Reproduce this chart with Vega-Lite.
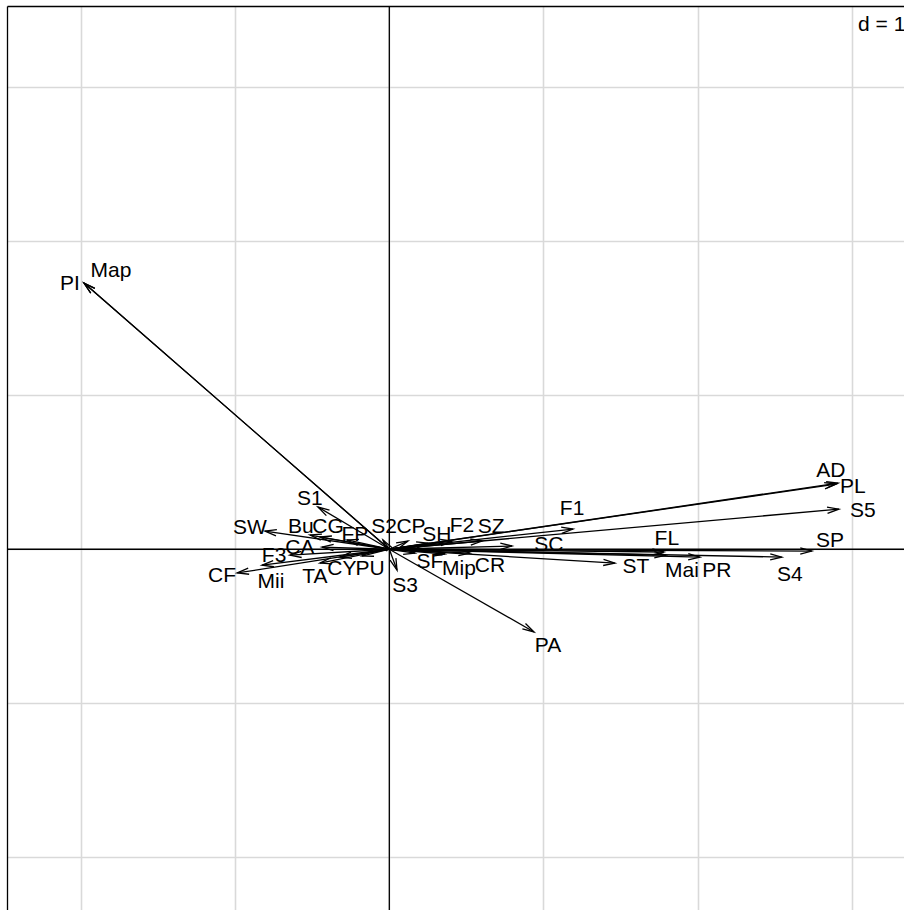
{
  "$schema": "https://vega.github.io/schema/vega-lite/v6.json",
  "width": 897,
  "height": 904,
  "autosize": {"type": "none"},
  "padding": {"left": 7, "top": 6, "right": 0, "bottom": 0},
  "background": "white",
  "config": {"view": {"stroke": null}},
  "datasets": {
    "arrows": [
      {"label": "PI", "x": -1.981, "y": 1.727, "lx": -2.072, "ly": 1.721},
      {"label": "Map", "x": -1.981, "y": 1.727, "lx": -1.806, "ly": 1.805},
      {"label": "S1", "x": -0.463, "y": 0.274, "lx": -0.515, "ly": 0.326},
      {"label": "SW", "x": -0.807, "y": 0.118, "lx": -0.904, "ly": 0.138},
      {"label": "Bu", "x": -0.515, "y": 0.092, "lx": -0.574, "ly": 0.144},
      {"label": "CG", "x": -0.450, "y": 0.079, "lx": -0.398, "ly": 0.144},
      {"label": "FP", "x": -0.275, "y": 0.060, "lx": -0.223, "ly": 0.092},
      {"label": "S2", "x": -0.041, "y": 0.060, "lx": -0.034, "ly": 0.144},
      {"label": "CP", "x": 0.121, "y": 0.053, "lx": 0.141, "ly": 0.144},
      {"label": "SH", "x": 0.251, "y": 0.040, "lx": 0.309, "ly": 0.092},
      {"label": "F2", "x": 0.407, "y": 0.053, "lx": 0.471, "ly": 0.151},
      {"label": "SZ", "x": 0.602, "y": 0.053, "lx": 0.661, "ly": 0.147},
      {"label": "SC", "x": 0.796, "y": 0.021, "lx": 1.036, "ly": 0.027},
      {"label": "F1", "x": 1.192, "y": 0.131, "lx": 1.186, "ly": 0.260},
      {"label": "AD", "x": 2.899, "y": 0.423, "lx": 2.865, "ly": 0.507},
      {"label": "PL", "x": 2.912, "y": 0.429, "lx": 3.008, "ly": 0.404},
      {"label": "S5", "x": 2.917, "y": 0.260, "lx": 3.073, "ly": 0.248},
      {"label": "SP", "x": 2.742, "y": -0.012, "lx": 2.859, "ly": 0.053},
      {"label": "S4", "x": 2.547, "y": -0.051, "lx": 2.599, "ly": -0.167},
      {"label": "PR", "x": 2.015, "y": -0.051, "lx": 2.126, "ly": -0.141},
      {"label": "Mai", "x": 1.795, "y": -0.038, "lx": 1.899, "ly": -0.141},
      {"label": "FL", "x": 1.782, "y": -0.018, "lx": 1.801, "ly": 0.066},
      {"label": "ST", "x": 1.464, "y": -0.090, "lx": 1.600, "ly": -0.116},
      {"label": "PA", "x": 0.939, "y": -0.537, "lx": 1.030, "ly": -0.628},
      {"label": "S3", "x": 0.050, "y": -0.135, "lx": 0.102, "ly": -0.239},
      {"label": "SF", "x": 0.167, "y": -0.025, "lx": 0.264, "ly": -0.083},
      {"label": "Mip", "x": 0.361, "y": -0.031, "lx": 0.452, "ly": -0.128},
      {"label": "CR", "x": 0.524, "y": -0.025, "lx": 0.653, "ly": -0.109},
      {"label": "CF", "x": -0.987, "y": -0.154, "lx": -1.085, "ly": -0.174},
      {"label": "Mii", "x": -0.826, "y": -0.103, "lx": -0.768, "ly": -0.213},
      {"label": "F3", "x": -0.645, "y": -0.038, "lx": -0.748, "ly": -0.044},
      {"label": "CA", "x": -0.437, "y": 0.014, "lx": -0.580, "ly": 0.008},
      {"label": "TA", "x": -0.450, "y": -0.090, "lx": -0.483, "ly": -0.180},
      {"label": "CY", "x": -0.320, "y": -0.051, "lx": -0.308, "ly": -0.128},
      {"label": "PU", "x": -0.177, "y": -0.044, "lx": -0.125, "ly": -0.128}
    ]
  },
  "layer": [
    {
      "data": {"values": [{"v": 0}]},
      "mark": {"type": "rule", "color": "black", "strokeWidth": 1.3},
      "encoding": {
        "y": {
          "field": "v", "type": "quantitative",
          "scale": {"domain": [-2.341, 3.525], "nice": false, "zero": false},
          "axis": {"orient": "left", "values": [-2, -1, 0, 1, 2, 3], "labels": false, "ticks": false, "title": null,
                   "domain": true, "domainColor": "black", "domainWidth": 1.3,
                   "grid": true, "gridColor": "#d9d9d9", "gridWidth": 1.6}
        }
      }
    },
    {
      "data": {"values": [{"v": 0}]},
      "mark": {"type": "rule", "color": "black", "strokeWidth": 1.3},
      "encoding": {
        "x": {
          "field": "v", "type": "quantitative",
          "scale": {"domain": [-2.481, 3.340], "nice": false, "zero": false},
          "axis": {"orient": "top", "values": [-2, -1, 0, 1, 2, 3], "labels": false, "ticks": false, "title": null,
                   "domain": true, "domainColor": "black", "domainWidth": 1.3,
                   "grid": true, "gridColor": "#d9d9d9", "gridWidth": 1.6}
        }
      }
    },
    {
      "data": {"name": "arrows"},
      "mark": {"type": "rule", "color": "black", "strokeWidth": 1.3},
      "encoding": {
        "x": {"field": "x", "type": "quantitative"},
        "y": {"field": "y", "type": "quantitative"},
        "x2": {"datum": 0},
        "y2": {"datum": 0}
      }
    },
    {
      "data": {"name": "arrows"},
      "transform": [{"calculate": "atan2(datum.x, datum.y) * 180 / PI", "as": "ang"}],
      "mark": {"type": "point", "shape": "M -0.259 0.966 L 0 0 L 0.259 0.966", "filled": false, "stroke": "black", "strokeWidth": 1.3, "size": 576, "opacity": 1},
      "encoding": {
        "x": {"field": "x", "type": "quantitative"},
        "y": {"field": "y", "type": "quantitative"},
        "angle": {"field": "ang", "type": "quantitative", "scale": null}
      }
    },
    {
      "data": {"name": "arrows"},
      "mark": {"type": "text", "font": "Liberation Sans", "fontSize": 21, "align": "center", "baseline": "middle", "color": "black"},
      "encoding": {
        "x": {"field": "lx", "type": "quantitative"},
        "y": {"field": "ly", "type": "quantitative"},
        "text": {"field": "label"}
      }
    },
    {
      "data": {"values": [{"t": "d = 1", "x": 3.042, "y": 3.402}]},
      "mark": {"type": "text", "font": "Liberation Sans", "fontSize": 21, "align": "left", "baseline": "middle", "color": "black"},
      "encoding": {
        "x": {"field": "x", "type": "quantitative"},
        "y": {"field": "y", "type": "quantitative"},
        "text": {"field": "t"}
      }
    }
  ]
}
